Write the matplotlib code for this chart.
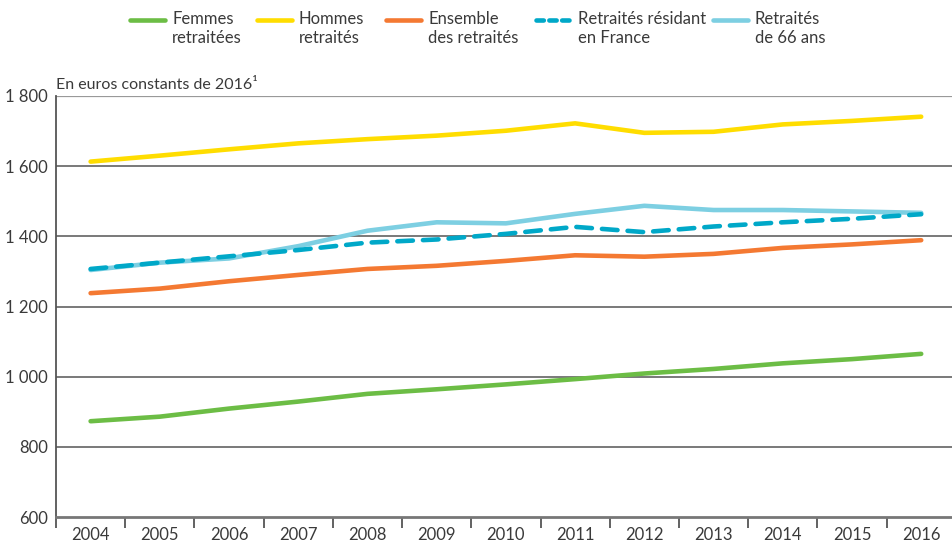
import matplotlib
matplotlib.use("Agg")
import matplotlib.pyplot as plt
from matplotlib.lines import Line2D
from matplotlib.ticker import FuncFormatter

plt.rcParams['font.family'] = ['Lato', 'DejaVu Sans']

years = [2004, 2005, 2006, 2007, 2008, 2009, 2010, 2011, 2012, 2013, 2014, 2015, 2016]

femmes = [873, 886, 909, 929, 951, 964, 978, 993, 1009, 1022, 1038, 1050, 1065]
hommes = [1613, 1630, 1648, 1665, 1677, 1687, 1701, 1722, 1695, 1698, 1719, 1729, 1741]
ensemble = [1238, 1251, 1272, 1290, 1307, 1316, 1330, 1346, 1342, 1350, 1367, 1377, 1389]
residents = [1307, 1325, 1343, 1361, 1382, 1391, 1407, 1427, 1412, 1428, 1440, 1450, 1463]
ans66 = [1304, 1325, 1337, 1372, 1416, 1440, 1437, 1464, 1487, 1475, 1475, 1471, 1467]

labels = ["Femmes\nretraitées", "Hommes\nretraités", "Ensemble\ndes retraités",
          "Retraités résidant\nen France", "Retraités\nde 66 ans"]
colors = ["#6cbd45", "#ffdd00", "#f47932", "#00a8c8", "#7dcfe2"]

text_col = "#3a3a3a"
grid_col = "#555555"
fs = 12

fig = plt.figure(figsize=(9.52, 5.43), dpi=100)
ax = fig.add_axes([56 / 952, 1 - 517 / 543, 1.004 - 56 / 952, (517 - 96) / 543])

x = list(range(len(years)))
lw = 3.3
ax.plot(x, femmes, color=colors[0], lw=lw, solid_capstyle='round', zorder=3)
ax.plot(x, hommes, color=colors[1], lw=lw, solid_capstyle='round', zorder=3)
ax.plot(x, ensemble, color=colors[2], lw=lw, solid_capstyle='round', zorder=3)
ax.plot(x, ans66, color=colors[4], lw=lw, solid_capstyle='round', zorder=3)
ax.plot(x, residents, color=colors[3], lw=lw, dashes=(3.4, 2.2), dash_capstyle='round', zorder=4)

ax.set_xlim(-0.5, len(years) - 0.5)
ax.set_ylim(600, 1800)
ax.set_yticks(range(600, 1801, 200))
ax.yaxis.set_major_formatter(FuncFormatter(lambda v, p: f"{int(v):,}".replace(",", " ")))
ax.set_xticks(x)
ax.set_xticklabels([str(y) for y in years])
ax.set_xticks([i - 0.5 for i in range(len(years) + 1)], minor=True)

ax.tick_params(axis='y', length=0, pad=6, labelsize=fs, labelcolor=text_col)
ax.tick_params(axis='x', which='major', length=0, pad=7, labelsize=fs, labelcolor=text_col)
ax.tick_params(axis='x', which='minor', length=8, width=1.3, color=grid_col, direction='out')

for v in range(800, 1800, 200):
    ax.axhline(v, color=grid_col, lw=1.1, zorder=1)
ax.axhline(1800, color="#999999", lw=1.6, zorder=1)

for s in ['top', 'right']:
    ax.spines[s].set_visible(False)
ax.spines['left'].set_color(grid_col)
ax.spines['left'].set_linewidth(1.3)
ax.spines['bottom'].set_color("#777777")
ax.spines['bottom'].set_linewidth(2)

fig.text(56 / 952, 1 - 89 / 543, "En euros constants de 2016¹", fontsize=11.5,
         color=text_col, ha='left', va='baseline')

# legend drawn by hand
leg_x = [130, 257, 386, 536, 713]
for lx, lab, c, i in zip(leg_x, labels, colors, range(5)):
    ly = 1 - 20 / 543
    if i == 3:
        fig.add_artist(Line2D([lx / 952, (lx + 35) / 952], [ly, ly], color=c, lw=lw,
                              dashes=(1.6, 1.2), dash_capstyle='round', transform=fig.transFigure))
    else:
        fig.add_artist(Line2D([lx / 952, (lx + 35) / 952], [ly, ly], color=c, lw=lw,
                              solid_capstyle='round', transform=fig.transFigure))
    fig.text((lx + 42) / 952, 1 - 11 / 543, lab, fontsize=fs, color=text_col,
             ha='left', va='top', linespacing=1.2)

fig.savefig("out.png", dpi=100)
